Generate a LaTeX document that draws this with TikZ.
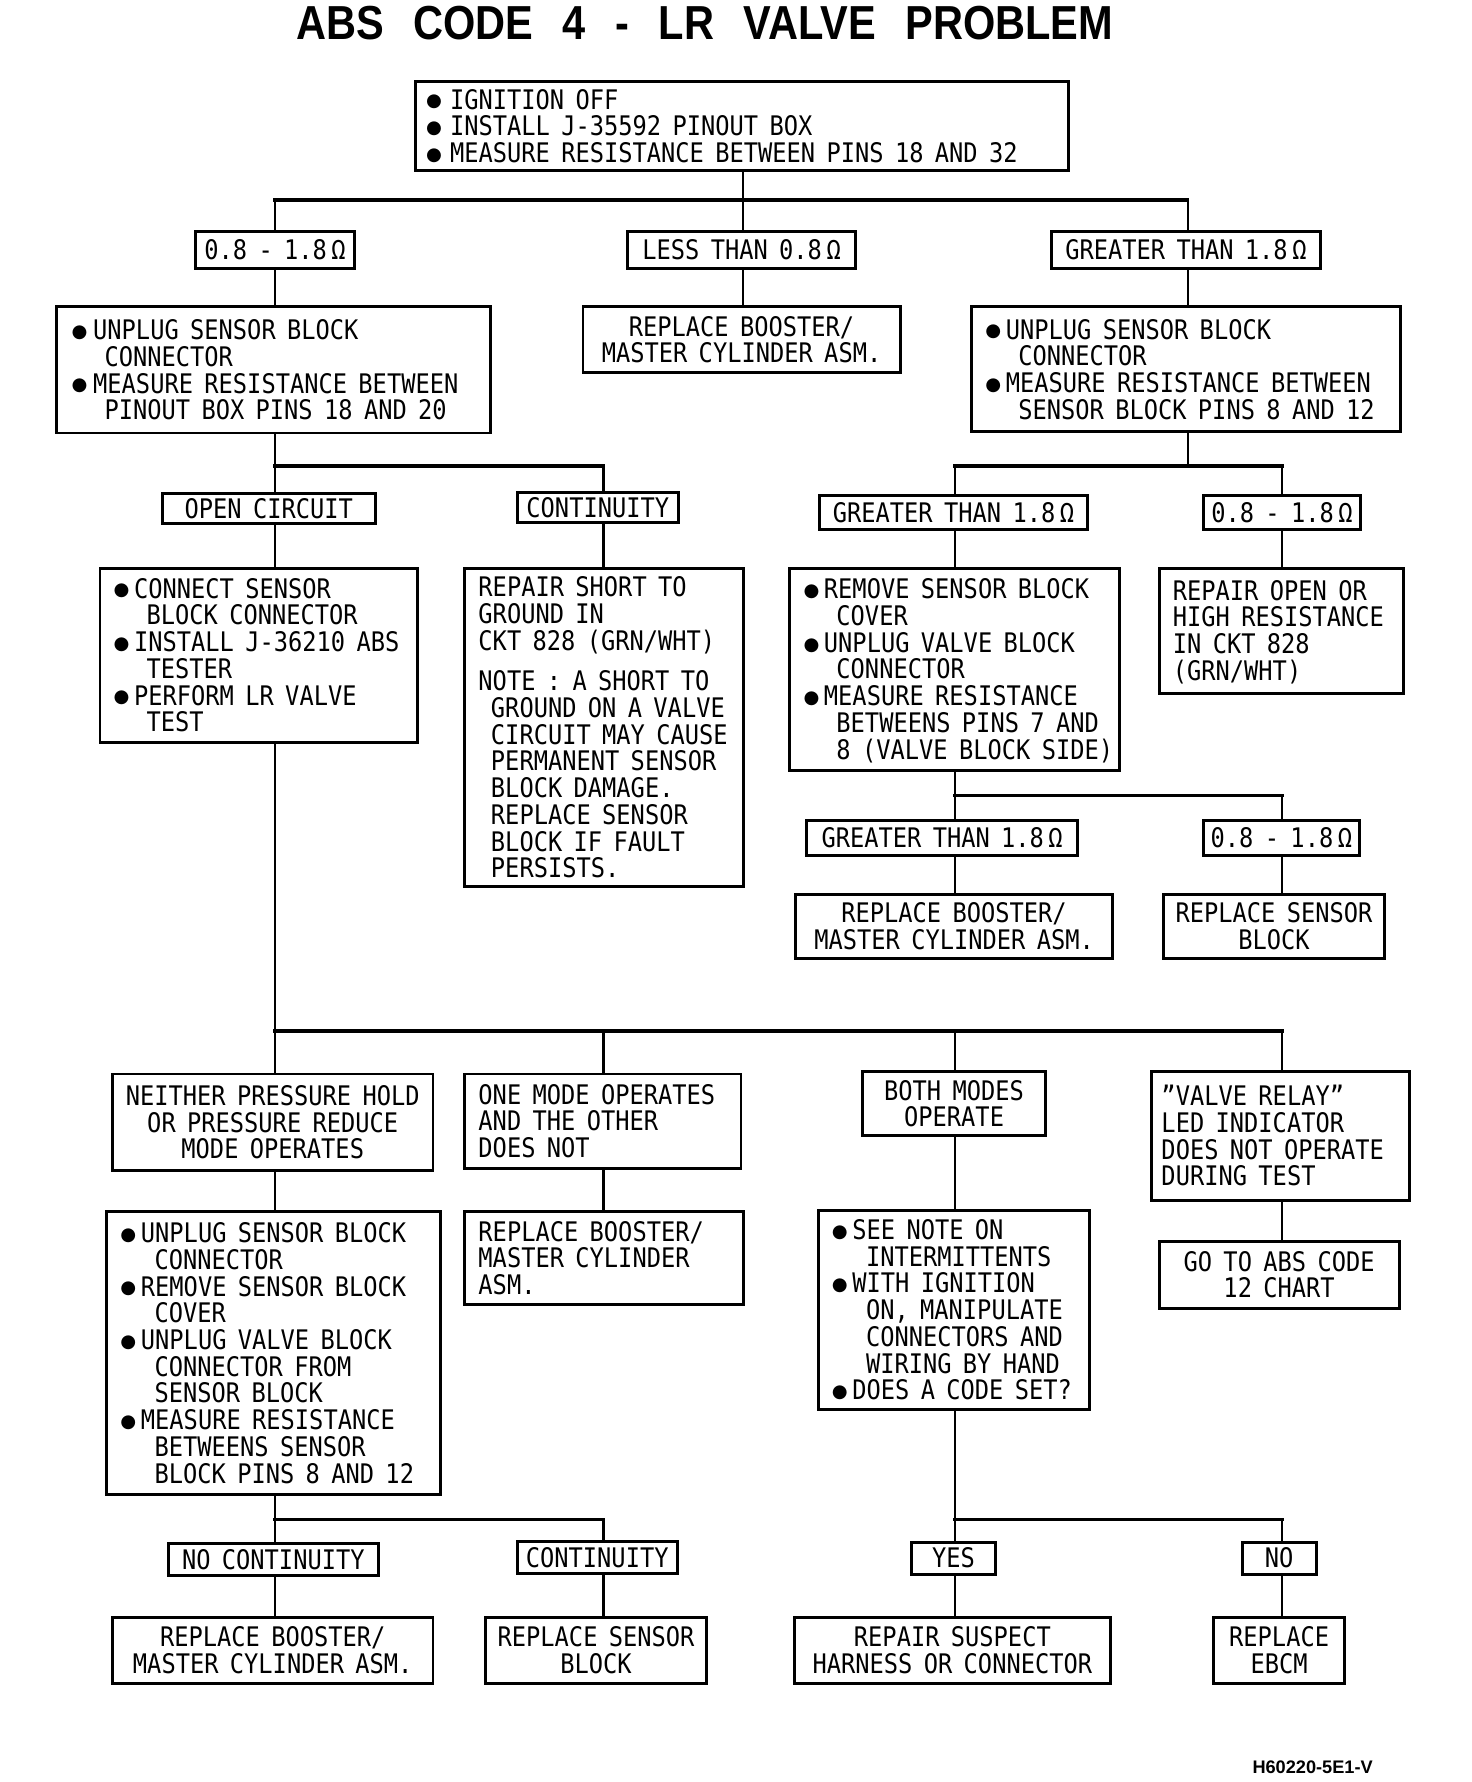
\documentclass[tikz,border=0pt]{standalone}
\usepackage{fontspec}
\setmainfont{DejaVu Sans Mono}[FakeStretch=0.88]
\newfontfamily\titlefont{Liberation Sans}[FakeStretch=0.87]
\newfontfamily\idfont{Liberation Sans}
\newfontfamily\bulletfont{DejaVu Sans}
\renewcommand{\arraystretch}{0.85}
\newcommand{\boxfont}{\fontsize{23.7}{23.2}\selectfont\spaceskip=10pt\relax}
\newcommand{\bul}[1][18pt]{\makebox[#1][l]{\raisebox{2pt}{\bulletfont\fontsize{16}{16}\selectfont ●}}}
\newcommand{\ind}[1][29pt]{\hspace*{#1}}
\newcommand{\boxtext}[2]{\makebox[#1][l]{\begin{tabular}{@{}l@{}}\rule{0pt}{23.2pt}#2\end{tabular}}}
\tikzset{
  box/.style={draw, line width=2.6pt, inner xsep=12pt, inner ysep=1pt},
  lbl/.style={draw, line width=2.6pt, inner sep=0pt},
  wire/.style={line width=1.8pt},
  bus/.style={line width=3.2pt, line cap=rect},
}
\begin{document}
\begin{tikzpicture}[x=1pt, y=-1pt, font=\boxfont]
  \useasboundingbox (0,0) rectangle (1295,1568);
  \node[font=\titlefont\fontsize{42}{42}\selectfont\bfseries] (title) at (620,20) {ABS\hspace{26pt}CODE\hspace{26pt}4\hspace{26pt}-\hspace{26pt}LR\hspace{26pt}VALVE\hspace{26pt}PROBLEM};
  \node[box, minimum width=574pt, minimum height=78pt, inner xsep=9pt] (top) at (653,111) {\boxtext{556pt}{\bul[21pt]IGNITION OFF\\
    \bul[21pt]INSTALL J-35592 PINOUT BOX\\
    \bul[21pt]MEASURE RESISTANCE BETWEEN PINS 18 AND 32}};
  % first measurement
  \node[lbl, minimum width=140pt, minimum height=32pt] (lblA) at (242,220) {0.8 - 1.8\,Ω};
  \node[lbl, minimum width=201pt, minimum height=32pt] (lblB) at (652.5,220) {LESS THAN 0.8\,Ω};
  \node[lbl, minimum width=237pt, minimum height=32pt] (lblC) at (1043.5,220) {GREATER THAN 1.8\,Ω};
  \node[box, minimum width=382pt, minimum height=111pt, inner xsep=13pt] (boxA) at (241,325.5) {\boxtext{356pt}{\bul[19pt]UNPLUG SENSOR BLOCK\\
    \ind CONNECTOR\\
    \bul[19pt]MEASURE RESISTANCE BETWEEN\\
    \ind PINOUT BOX PINS 18 AND 20}};
  \node[box, minimum width=279pt, minimum height=58pt, inner xsep=6pt, align=center] (boxB) at (652.5,299) {REPLACE BOOSTER/\\MASTER CYLINDER ASM.};
  \node[box, minimum width=377pt, minimum height=110pt] (boxC) at (1043.5,325) {\boxtext{353pt}{\bul UNPLUG SENSOR BLOCK\\
    \ind CONNECTOR\\
    \bul MEASURE RESISTANCE BETWEEN\\
    \ind SENSOR BLOCK PINS 8 AND 12}};
  % second level
  \node[lbl, minimum width=187pt, minimum height=27pt] (lblOpen) at (236.5,447.5) {OPEN CIRCUIT};
  \node[lbl, minimum width=142pt, minimum height=27pt] (lblCont) at (526,446.5) {CONTINUITY};
  \node[lbl, minimum width=236pt, minimum height=30pt] (lblGt) at (839,451) {GREATER THAN 1.8\,Ω};
  \node[lbl, minimum width=138pt, minimum height=30pt] (lblOk) at (1128,451) {0.8 - 1.8\,Ω};
  \node[box, minimum width=279pt, minimum height=153pt] (connTest) at (227.5,576.5) {\boxtext{255pt}{\bul CONNECT SENSOR\\
    \ind BLOCK CONNECTOR\\
    \bul INSTALL J-36210 ABS\\
    \ind TESTER\\
    \bul PERFORM LR VALVE\\
    \ind TEST}};
  \node[box, minimum width=245pt, minimum height=280pt] (shortRep) at (531.5,640) {\boxtext{221pt}{REPAIR SHORT TO\\
    GROUND IN\\
    CKT 828 (GRN/WHT)\\[12pt]
    NOTE : A SHORT TO\\
    \ind[11pt]GROUND ON A VALVE\\
    \ind[11pt]CIRCUIT MAY CAUSE\\
    \ind[11pt]PERMANENT SENSOR\\
    \ind[11pt]BLOCK DAMAGE.\\
    \ind[11pt]REPLACE SENSOR\\
    \ind[11pt]BLOCK IF FAULT\\
    \ind[11pt]PERSISTS.}};
  \node[box, minimum width=290pt, minimum height=178pt] (valveMeas) at (840,589) {\boxtext{266pt}{\bul REMOVE SENSOR BLOCK\\
    \ind COVER\\
    \bul UNPLUG VALVE BLOCK\\
    \ind CONNECTOR\\
    \bul MEASURE RESISTANCE\\
    \ind BETWEENS PINS 7 AND\\
    \ind 8 (VALVE BLOCK SIDE)}};
  \node[box, minimum width=215pt, minimum height=110pt] (openRep) at (1127.5,555) {\boxtext{191pt}{REPAIR OPEN OR\\
    HIGH RESISTANCE\\
    IN CKT 828\\
    (GRN/WHT)}};
  % valve block measurement
  \node[lbl, minimum width=238pt, minimum height=31pt] (lblGtB) at (829,737.5) {GREATER THAN 1.8\,Ω};
  \node[lbl, minimum width=137pt, minimum height=31pt] (lblOkB) at (1127.5,737.5) {0.8 - 1.8\,Ω};
  \node[box, minimum width=279pt, minimum height=56pt, inner xsep=6pt, align=center] (boosterA) at (839.5,815) {REPLACE BOOSTER/\\MASTER CYLINDER ASM.};
  \node[box, minimum width=194pt, minimum height=56pt, inner xsep=6pt, align=center] (sensorA) at (1121,815) {REPLACE SENSOR\\BLOCK};
  % tester results
  \node[box, minimum width=282pt, minimum height=85pt, inner xsep=4pt, align=center] (neither) at (240,987.5) {NEITHER PRESSURE HOLD\\OR PRESSURE REDUCE\\MODE OPERATES};
  \node[box, minimum width=243pt, minimum height=83pt] (oneMode) at (530.5,986.5) {\boxtext{219pt}{ONE MODE OPERATES\\AND THE OTHER\\DOES NOT}};
  \node[box, minimum width=161pt, minimum height=56pt, inner xsep=6pt, align=center] (bothModes) at (839.5,971) {BOTH MODES\\OPERATE};
  \node[box, minimum width=227pt, minimum height=113pt, inner xsep=9pt] (relayLed) at (1126.5,999.5) {\boxtext{209pt}{\char34 VALVE RELAY\char34\\LED INDICATOR\\DOES NOT OPERATE\\DURING TEST}};
  \node[box, minimum width=294pt, minimum height=249pt] (unplugMeas) at (241,1190.5) {\boxtext{270pt}{\bul UNPLUG SENSOR BLOCK\\
    \ind[30pt]CONNECTOR\\
    \bul REMOVE SENSOR BLOCK\\
    \ind[30pt]COVER\\
    \bul UNPLUG VALVE BLOCK\\
    \ind[30pt]CONNECTOR FROM\\
    \ind[30pt]SENSOR BLOCK\\
    \bul MEASURE RESISTANCE\\
    \ind[30pt]BETWEENS SENSOR\\
    \ind[30pt]BLOCK PINS 8 AND 12}};
  \node[box, minimum width=245pt, minimum height=82pt] (boosterB) at (531.5,1107) {\boxtext{221pt}{REPLACE BOOSTER/\\MASTER CYLINDER\\ASM.}};
  \node[box, minimum width=239pt, minimum height=175pt] (intermit) at (839.5,1152.5) {\boxtext{215pt}{\bul SEE NOTE ON\\
    \ind[30pt]INTERMITTENTS\\
    \bul WITH IGNITION\\
    \ind[30pt]ON, MANIPULATE\\
    \ind[30pt]CONNECTORS AND\\
    \ind[30pt]WIRING BY HAND\\
    \bul DOES A CODE SET?}};
  \node[box, minimum width=211pt, minimum height=59pt, inner xsep=6pt, align=center] (goCode) at (1125.5,1121.5) {GO TO ABS CODE\\12 CHART};
  % last level
  \node[lbl, minimum width=185pt, minimum height=28pt] (lblNoCont) at (240.5,1372) {NO CONTINUITY};
  \node[lbl, minimum width=141pt, minimum height=28pt] (lblContB) at (525.5,1370.5) {CONTINUITY};
  \node[lbl, minimum width=74pt, minimum height=28pt] (lblYes) at (839,1371) {YES};
  \node[lbl, minimum width=65pt, minimum height=28pt] (lblNo) at (1125.5,1371) {NO};
  \node[box, minimum width=282pt, minimum height=58pt, inner xsep=6pt, align=center] (boosterC) at (240,1452) {REPLACE BOOSTER/\\MASTER CYLINDER ASM.};
  \node[box, minimum width=195pt, minimum height=58pt, inner xsep=6pt, align=center] (sensorB) at (524.5,1452) {REPLACE SENSOR\\BLOCK};
  \node[box, minimum width=278pt, minimum height=58pt, inner xsep=6pt, align=center] (harness) at (838,1452) {REPAIR SUSPECT\\HARNESS OR CONNECTOR};
  \node[box, minimum width=115pt, minimum height=58pt, inner xsep=6pt, align=center] (ebcm) at (1125.5,1452) {REPLACE\\EBCM};
  \node[font=\idfont\fontsize{16}{16}\selectfont\bfseries] (figid) at (1155,1555) {H60220-5E1-V};
  % lanes and buses
  \coordinate (l1) at (242,0);
  \coordinate (l2) at (531,0);
  \coordinate (l3) at (654,0);
  \coordinate (l4) at (840,0);
  \coordinate (l5) at (1045,0);
  \coordinate (l6) at (1128,0);
  \coordinate (b1) at (0,176);
  \coordinate (b2) at (0,410);
  \coordinate (b3) at (0,700);
  \coordinate (b4) at (0,907);
  \coordinate (b5) at (0,1337);
  \draw[wire] (top.south -| l3) -- (l3 |- b1);
  \draw[bus] (l1 |- b1) -- (l5 |- b1);
  \foreach \lane/\cond/\act in {l1/lblA/boxA, l3/lblB/boxB, l5/lblC/boxC} {
    \draw[wire] (\lane |- b1) -- (\cond.north -| \lane);
    \draw[wire] (\cond.south -| \lane) -- (\act.north -| \lane);
  }
  \draw[wire] (boxA.south -| l1) -- (l1 |- b2);
  \draw[bus] (l1 |- b2) -- (l2 |- b2);
  \draw[wire] (boxC.south -| l5) -- (l5 |- b2);
  \draw[bus] (l4 |- b2) -- (l6 |- b2);
  \foreach \lane/\cond/\act in {l1/lblOpen/connTest, l2/lblCont/shortRep, l4/lblGt/valveMeas, l6/lblOk/openRep} {
    \draw[wire] (\lane |- b2) -- (\cond.north -| \lane);
    \draw[wire] (\cond.south -| \lane) -- (\act.north -| \lane);
  }
  \draw[wire] (valveMeas.south -| l4) -- (l4 |- b3);
  \draw[bus] (l4 |- b3) -- (l6 |- b3);
  \foreach \lane/\cond/\act in {l4/lblGtB/boosterA, l6/lblOkB/sensorA} {
    \draw[wire] (\lane |- b3) -- (\cond.north -| \lane);
    \draw[wire] (\cond.south -| \lane) -- (\act.north -| \lane);
  }
  \draw[wire] (connTest.south -| l1) -- (l1 |- b4);
  \draw[bus] (l1 |- b4) -- (l6 |- b4);
  \foreach \lane/\cond/\act in {l1/neither/unplugMeas, l2/oneMode/boosterB, l4/bothModes/intermit, l6/relayLed/goCode} {
    \draw[wire] (\lane |- b4) -- (\cond.north -| \lane);
    \draw[wire] (\cond.south -| \lane) -- (\act.north -| \lane);
  }
  \draw[wire] (unplugMeas.south -| l1) -- (l1 |- b5);
  \draw[bus] (l1 |- b5) -- (l2 |- b5);
  \draw[wire] (intermit.south -| l4) -- (l4 |- b5);
  \draw[bus] (l4 |- b5) -- (l6 |- b5);
  \foreach \lane/\cond/\act in {l1/lblNoCont/boosterC, l2/lblContB/sensorB, l4/lblYes/harness, l6/lblNo/ebcm} {
    \draw[wire] (\lane |- b5) -- (\cond.north -| \lane);
    \draw[wire] (\cond.south -| \lane) -- (\act.north -| \lane);
  }
\end{tikzpicture}
\end{document}
